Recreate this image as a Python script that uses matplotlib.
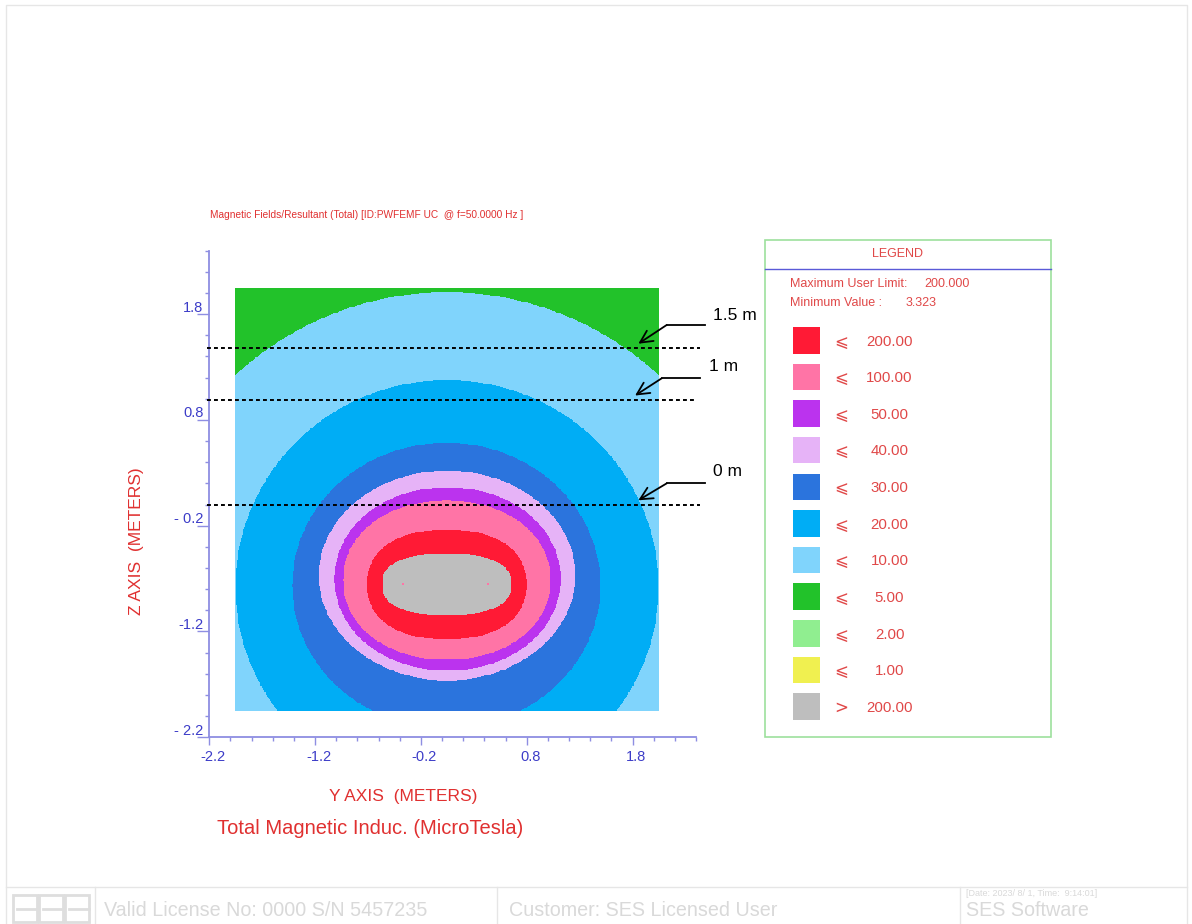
import numpy as np
import matplotlib
matplotlib.use('Agg')
import matplotlib.pyplot as plt
from matplotlib.colors import ListedColormap
from matplotlib.patches import Rectangle
from matplotlib.lines import Line2D
import matplotlib.transforms as mtransforms

plt.rcParams['font.family'] = ['Liberation Sans', 'DejaVu Sans']

# ---------------- data ----------------
# computed grid extent (m)
grid_y_range = (-1.955, 2.045)
grid_z_range = (-1.95, 2.045)

# colour classes, from background (<=5) to core (>200)
class_colors = ['#22c22a', '#80d4fc', '#00adf5', '#2b74dd', '#e6b3f7',
                '#bb33ee', '#ff74a6', '#ff1a35', '#bebebe']

# outer boundary of each contour class (<=10, <=20, <=30, <=40, <=50, <=100, <=200, >200)
boundary_cy = [0.045, 0.045, 0.039, 0.046, 0.050, 0.043, 0.043, 0.043]
boundary_cz = [-0.90, -0.78, -0.766, -0.672, -0.704, -0.716, -0.757, -0.756]
boundary_ha = [2.929, 2.000, 1.457, 1.213, 1.068, 0.980, 0.753, 0.611]
boundary_hb = [2.909, 1.957, 1.351, 0.993, 0.867, 0.752, 0.517, 0.288]
boundary_exp = [2.0, 2.0, 2.0, 2.0, 2.05, 2.1, 2.3, 2.5]

# conductor positions (m)
cond_y = [-0.366, 0.437]
cond_z = [-0.754, -0.754]

# observation heights (dashed lines) and their labels
obs_heights = [1.48, 0.99, 0.0]
obs_labels = ['1.5 m', '1 m', '0 m']

major_ticks = [-2.2, -1.2, -0.2, 0.8, 1.8]

legend_ops = ['\u2a7d'] * 10 + ['>']
legend_vals = [200.0, 100.0, 50.0, 40.0, 30.0, 20.0, 10.0, 5.0, 2.0, 1.0, 200.0]
legend_colors = ['#ff1a35', '#ff74a6', '#bb33ee', '#e6b3f7', '#2b74dd', '#00adf5',
                 '#80d4fc', '#22c22a', '#90ee90', '#f0f050', '#bebebe']
max_user_limit = 200.0
min_value = 3.323

# ---------------- figure ----------------
W, H = 1192, 924
fig = plt.figure(figsize=(W / 100, H / 100), dpi=100)


def fx(px):
    return px / W


def fy(py):
    return 1 - py / H


axis_color = '#8e8ee2'
tick_lab_color = '#3c3cc8'
red_txt = '#e03030'

ax = fig.add_axes([fx(209.3), fy(737.3), 486.7 / W, 486.7 / H])

yy = np.linspace(grid_y_range[0], grid_y_range[1], 500)
zz = np.linspace(grid_z_range[0], grid_z_range[1], 500)
Y, Z = np.meshgrid(yy, zz)
cat = np.zeros(Y.shape, dtype=int)
for i in range(len(boundary_cy)):
    r = (np.abs(Y - boundary_cy[i]) / boundary_ha[i]) ** boundary_exp[i] + \
        (np.abs(Z - boundary_cz[i]) / boundary_hb[i]) ** boundary_exp[i]
    cat[r <= 1] = i + 1

ax.imshow(cat, extent=[grid_y_range[0], grid_y_range[1], grid_z_range[0], grid_z_range[1]],
          origin='lower', cmap=ListedColormap(class_colors), vmin=-0.5,
          vmax=len(class_colors) - 0.5, interpolation='nearest', aspect='auto', zorder=1)
ax.scatter(cond_y, cond_z, s=1.5, color='#ff74a6', marker='s', linewidths=0, zorder=2)

ax.set_xlim(-2.2, 2.4)
ax.set_ylim(-2.2, 2.4)
for s in ['top', 'right']:
    ax.spines[s].set_visible(False)
for s in ['left', 'bottom']:
    ax.spines[s].set_color(axis_color)
    ax.spines[s].set_linewidth(1.3)

minor = np.round(np.arange(-2.2, 2.41, 0.2), 1)
ax.set_xticks(major_ticks)
ax.set_yticks(major_ticks)
ax.set_xticks(minor, minor=True)
ax.set_yticks(minor, minor=True)
ax.tick_params(axis='x', which='major', length=5.5, width=1, color=axis_color, direction='out',
               labelbottom=False)
ax.tick_params(axis='y', which='major', length=9, width=1, color=axis_color, direction='out',
               labelleft=False)
ax.tick_params(which='minor', length=3, width=1, color=axis_color, direction='out')

xt = mtransforms.offset_copy(ax.get_xaxis_transform(), fig=fig, x=3.5, y=-19.5, units='dots')
for v in major_ticks:
    ax.text(v, 0, f'{v:.1f}', transform=xt, ha='center', va='center', fontsize=10.5,
            color=tick_lab_color)

ytr = mtransforms.offset_copy(ax.get_yaxis_transform(), fig=fig, x=-6, y=6.5, units='dots')
for v in major_ticks:
    s = f'{v:.1f}'
    if v < 0 and not s.startswith('-1'):
        s = '- ' + s[1:]
    ax.text(0, v, s, transform=ytr, ha='right', va='center', fontsize=10.5,
            color=tick_lab_color)

# dashed observation lines and arrows
line_ends = [2.44, 2.395, 2.44]
for h, xe in zip(obs_heights, line_ends):
    ax.plot([-2.225, xe], [h, h], color='black', lw=1.4, linestyle=(0, (2, 1.6)),
            clip_on=False, zorder=5)
arrow_tip_x = [1.855, 1.824, 1.855]
arrow_bend_x = [2.123, 2.076, 2.123]
arrow_start_x = [2.485, 2.438, 2.485]
arrow_bend_dz = [0.217, 0.203, 0.20]
label_x = [2.766, 2.665, 2.70]
for i, (h, lab) in enumerate(zip(obs_heights, obs_labels)):
    tip_z = h + 0.04
    bend_z = h + arrow_bend_dz[i]
    ax.plot([arrow_start_x[i], arrow_bend_x[i]], [bend_z, bend_z], color='black', lw=1.3,
            clip_on=False, zorder=6)
    ax.annotate('', xy=(arrow_tip_x[i], tip_z), xytext=(arrow_bend_x[i], bend_z),
                arrowprops=dict(arrowstyle='->', lw=1.3, color='black', mutation_scale=22,
                                shrinkA=0, shrinkB=0), zorder=6, annotation_clip=False)
    ax.text(label_x[i], h + 0.31, lab, fontsize=12.5, color='black', ha='center',
            va='center', clip_on=False)

# titles and axis labels
fig.text(fx(210), fy(215), 'Magnetic Fields/Resultant (Total) [ID:PWFEMF UC  @ f=50.0000 Hz ]',
         fontsize=7.3, color=red_txt, ha='left', va='center')
fig.text(fx(137), fy(541), 'Z AXIS  (METERS)', rotation=90, fontsize=12.5, color=red_txt,
         ha='center', va='center')
fig.text(fx(403), fy(796), 'Y AXIS  (METERS)', fontsize=12.5, color=red_txt,
         ha='center', va='center')
fig.text(fx(370), fy(829), 'Total Magnetic Induc. (MicroTesla)', fontsize=14.5, color=red_txt,
         ha='center', va='center')

# ---------------- legend panel ----------------
leg_txt = '#e04848'
fig.add_artist(Rectangle((fx(765), fy(737.3)), fx(1050.7) - fx(765), fy(239.7) - fy(737.3),
                         transform=fig.transFigure, facecolor='none', edgecolor='#9de09d', lw=1.2))
fig.add_artist(Line2D([fx(765), fx(1050.7)], [fy(268.7), fy(268.7)], transform=fig.transFigure,
                      color='#5a5ad8', lw=1))
fig.text(fx(897.7), fy(254), 'LEGEND', fontsize=9, color=leg_txt, ha='center', va='center')
fig.text(fx(790), fy(284), 'Maximum User Limit:', fontsize=9, color=leg_txt, ha='left', va='center')
fig.text(fx(924), fy(284), f'{max_user_limit:.3f}', fontsize=9, color=leg_txt, ha='left', va='center')
fig.text(fx(790), fy(303), 'Minimum Value :', fontsize=9, color=leg_txt, ha='left', va='center')
fig.text(fx(905.7), fy(303), f'{min_value:.3f}', fontsize=9, color=leg_txt, ha='left', va='center')

for i, (op, val, col) in enumerate(zip(legend_ops, legend_vals, legend_colors)):
    top = 327 + i * 36.63
    fig.add_artist(Rectangle((fx(793.3), fy(top + 26.5)), fx(820) - fx(793.3), 26.5 / H,
                             transform=fig.transFigure, facecolor=col, edgecolor='none'))
    cy = top + 14.5
    fig.text(fx(841.5), fy(cy), op, fontsize=12, color=leg_txt, ha='center', va='center',
             family=['DejaVu Sans'])
    fig.text(fx(889.5), fy(cy), f'{val:.2f}', fontsize=10.8, color=leg_txt, ha='center',
             va='center')

# ---------------- frame and footer ----------------
frame_col = '#e6e6e6'
fig.add_artist(Line2D([fx(6), fx(6), fx(1187), fx(1187)], [fy(924), fy(5), fy(5), fy(924)],
                      transform=fig.transFigure, color=frame_col, lw=1))
fig.add_artist(Line2D([fx(6), fx(1187)], [fy(887.3), fy(887.3)], transform=fig.transFigure,
                      color=frame_col, lw=1))
for xd in [95, 497, 960]:
    fig.add_artist(Line2D([fx(xd), fx(xd)], [fy(887.3), fy(924)], transform=fig.transFigure,
                          color=frame_col, lw=1))
foot_col = '#d9d9d9'
# SES logo (block letters)
logo_col = '#dedede'
for lx in [13, 39, 65]:
    fig.add_artist(Rectangle((fx(lx), fy(922)), 24 / W, 27 / H, transform=fig.transFigure,
                             facecolor='none', edgecolor=logo_col, lw=2))
    fig.add_artist(Line2D([fx(lx + 4), fx(lx + 24)], [fy(908.5), fy(908.5)],
                          transform=fig.transFigure, color=logo_col, lw=2))
fig.text(fx(104), fy(911), 'Valid License No: 0000 S/N 5457235', fontsize=14.2, color=foot_col,
         ha='left', va='center')
fig.text(fx(509), fy(911), 'Customer: SES Licensed User', fontsize=14.2, color=foot_col,
         ha='left', va='center')
fig.text(fx(966), fy(893), '[Date: 2023/ 8/ 1, Time:  9:14:01]', fontsize=6.5, color=foot_col,
         ha='left', va='center')
fig.text(fx(966), fy(911), 'SES Software', fontsize=14.2, color=foot_col, ha='left', va='center')

fig.savefig('out.png', dpi=100)
